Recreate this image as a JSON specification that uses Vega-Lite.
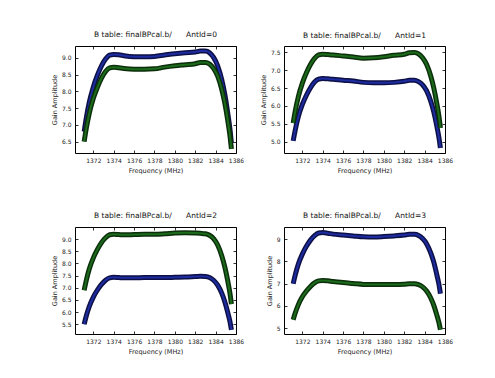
{
  "$schema": "https://vega.github.io/schema/vega-lite/v6.json",
  "background": "white",
  "padding": {"left": 50, "top": 30, "right": 5, "bottom": 5},
  "config": {
    "font": "DejaVu Sans",
    "view": {"stroke": "#000", "strokeWidth": 1},
    "axis": {
      "domain": false, "grid": false,
      "tickSize": -3, "tickColor": "#000", "tickWidth": 0.8,
      "labelPadding": 7, "labelFont": "DejaVu Sans", "labelFontSize": 6, "labelColor": "#222",
      "labelOverlap": false, "labelBound": false, "labelFlush": false,
      "titleFont": "DejaVu Sans", "titleFontSize": 6.5, "titleFontWeight": "normal", "titleColor": "#222",
      "titlePadding": 4
    },
    "title": {"font": "DejaVu Sans", "fontSize": 7.5, "fontWeight": "normal", "color": "#111", "offset": 3}
  },
  "datasets": {
    "gain": [
      {"a":0,"f":1371.1,"b":6.80,"g":6.50},{"a":0,"f":1371.3,"b":7.19,"g":6.88},{"a":0,"f":1371.6,"b":7.67,"g":7.34},{"a":0,"f":1372.0,"b":8.13,"g":7.79},
      {"a":0,"f":1372.4,"b":8.48,"g":8.12},{"a":0,"f":1372.8,"b":8.76,"g":8.39},{"a":0,"f":1373.2,"b":8.96,"g":8.59},{"a":0,"f":1373.6,"b":9.08,"g":8.70},
      {"a":0,"f":1374.0,"b":9.10,"g":8.72},{"a":0,"f":1374.5,"b":9.09,"g":8.70},{"a":0,"f":1375.0,"b":9.06,"g":8.68},{"a":0,"f":1376.0,"b":9.03,"g":8.66},
      {"a":0,"f":1377.0,"b":9.03,"g":8.66},{"a":0,"f":1378.0,"b":9.04,"g":8.67},{"a":0,"f":1379.0,"b":9.08,"g":8.72},{"a":0,"f":1380.0,"b":9.12,"g":8.76},
      {"a":0,"f":1381.0,"b":9.15,"g":8.79},{"a":0,"f":1382.0,"b":9.17,"g":8.82},{"a":0,"f":1382.5,"b":9.20,"g":8.86},{"a":0,"f":1383.0,"b":9.20,"g":8.86},
      {"a":0,"f":1383.4,"b":9.15,"g":8.81},{"a":0,"f":1383.8,"b":9.01,"g":8.68},{"a":0,"f":1384.2,"b":8.76,"g":8.45},{"a":0,"f":1384.6,"b":8.35,"g":8.06},
      {"a":0,"f":1384.9,"b":7.91,"g":7.65},{"a":0,"f":1385.2,"b":7.33,"g":7.11},{"a":0,"f":1385.4,"b":6.89,"g":6.69},{"a":0,"f":1385.55,"b":6.45,"g":6.28},

      {"a":1,"f":1371.1,"b":5.02,"g":5.52},{"a":1,"f":1371.3,"b":5.32,"g":5.85},{"a":1,"f":1371.6,"b":5.69,"g":6.25},{"a":1,"f":1372.0,"b":6.04,"g":6.64},
      {"a":1,"f":1372.4,"b":6.30,"g":6.93},{"a":1,"f":1372.8,"b":6.51,"g":7.16},{"a":1,"f":1373.2,"b":6.67,"g":7.33},{"a":1,"f":1373.6,"b":6.75,"g":7.43},
      {"a":1,"f":1374.0,"b":6.77,"g":7.45},{"a":1,"f":1374.5,"b":6.76,"g":7.44},{"a":1,"f":1375.0,"b":6.75,"g":7.43},{"a":1,"f":1376.0,"b":6.72,"g":7.40},
      {"a":1,"f":1377.0,"b":6.70,"g":7.37},{"a":1,"f":1378.0,"b":6.66,"g":7.34},{"a":1,"f":1379.0,"b":6.65,"g":7.35},{"a":1,"f":1380.0,"b":6.65,"g":7.38},
      {"a":1,"f":1381.0,"b":6.66,"g":7.42},{"a":1,"f":1382.0,"b":6.69,"g":7.45},{"a":1,"f":1382.5,"b":6.72,"g":7.49},{"a":1,"f":1383.0,"b":6.72,"g":7.50},
      {"a":1,"f":1383.4,"b":6.68,"g":7.46},{"a":1,"f":1383.8,"b":6.59,"g":7.35},{"a":1,"f":1384.2,"b":6.42,"g":7.16},{"a":1,"f":1384.6,"b":6.13,"g":6.84},
      {"a":1,"f":1384.9,"b":5.83,"g":6.50},{"a":1,"f":1385.2,"b":5.43,"g":6.06},{"a":1,"f":1385.4,"b":5.12,"g":5.72},{"a":1,"f":1385.55,"b":4.82,"g":5.38},

      {"a":2,"f":1371.1,"b":5.50,"g":6.90},{"a":2,"f":1371.3,"b":5.83,"g":7.29},{"a":2,"f":1371.6,"b":6.23,"g":7.77},{"a":2,"f":1372.0,"b":6.62,"g":8.23},
      {"a":2,"f":1372.4,"b":6.91,"g":8.58},{"a":2,"f":1372.8,"b":7.14,"g":8.86},{"a":2,"f":1373.2,"b":7.31,"g":9.06},{"a":2,"f":1373.6,"b":7.41,"g":9.18},
      {"a":2,"f":1374.0,"b":7.43,"g":9.20},{"a":2,"f":1374.5,"b":7.42,"g":9.19},{"a":2,"f":1375.0,"b":7.41,"g":9.18},{"a":2,"f":1376.0,"b":7.41,"g":9.19},
      {"a":2,"f":1377.0,"b":7.42,"g":9.20},{"a":2,"f":1378.0,"b":7.42,"g":9.20},{"a":2,"f":1379.0,"b":7.42,"g":9.22},{"a":2,"f":1380.0,"b":7.43,"g":9.25},
      {"a":2,"f":1381.0,"b":7.44,"g":9.26},{"a":2,"f":1382.0,"b":7.46,"g":9.25},{"a":2,"f":1382.5,"b":7.47,"g":9.24},{"a":2,"f":1383.0,"b":7.46,"g":9.22},
      {"a":2,"f":1383.4,"b":7.42,"g":9.16},{"a":2,"f":1383.8,"b":7.31,"g":9.02},{"a":2,"f":1384.2,"b":7.11,"g":8.76},{"a":2,"f":1384.6,"b":6.78,"g":8.32},
      {"a":2,"f":1384.9,"b":6.43,"g":7.86},{"a":2,"f":1385.2,"b":5.97,"g":7.26},{"a":2,"f":1385.4,"b":5.62,"g":6.79},{"a":2,"f":1385.55,"b":5.27,"g":6.33},

      {"a":3,"f":1371.1,"b":7.00,"g":5.38},{"a":3,"f":1371.3,"b":7.39,"g":5.68},{"a":3,"f":1371.6,"b":7.87,"g":6.05},{"a":3,"f":1372.0,"b":8.33,"g":6.41},
      {"a":3,"f":1372.4,"b":8.68,"g":6.67},{"a":3,"f":1372.8,"b":8.96,"g":6.88},{"a":3,"f":1373.2,"b":9.16,"g":7.04},{"a":3,"f":1373.6,"b":9.28,"g":7.13},
      {"a":3,"f":1374.0,"b":9.30,"g":7.15},{"a":3,"f":1374.5,"b":9.27,"g":7.13},{"a":3,"f":1375.0,"b":9.23,"g":7.10},{"a":3,"f":1376.0,"b":9.19,"g":7.05},
      {"a":3,"f":1377.0,"b":9.15,"g":7.01},{"a":3,"f":1378.0,"b":9.11,"g":6.97},{"a":3,"f":1379.0,"b":9.10,"g":6.96},{"a":3,"f":1380.0,"b":9.12,"g":6.97},
      {"a":3,"f":1381.0,"b":9.15,"g":6.97},{"a":3,"f":1382.0,"b":9.19,"g":6.98},{"a":3,"f":1382.5,"b":9.22,"g":7.00},{"a":3,"f":1383.0,"b":9.22,"g":7.00},
      {"a":3,"f":1383.4,"b":9.17,"g":6.96},{"a":3,"f":1383.8,"b":9.03,"g":6.86},{"a":3,"f":1384.2,"b":8.79,"g":6.67},{"a":3,"f":1384.6,"b":8.39,"g":6.36},
      {"a":3,"f":1384.9,"b":7.97,"g":6.03},{"a":3,"f":1385.2,"b":7.40,"g":5.59},{"a":3,"f":1385.4,"b":6.98,"g":5.26},{"a":3,"f":1385.55,"b":6.55,"g":4.93}
    ]
  },
  "columns": 2,
  "bounds": "flush",
  "spacing": {"column": 48, "row": 74},
  "concat": [
    {
      "width": 161, "height": 107,
      "title": "B table: finalBPcal.b/\u00a0\u00a0\u00a0\u00a0\u00a0\u00a0AntId=0",
      "data": {"name": "gain"},
      "transform": [{"filter": "datum.a == 0"}],
      "resolve": {"axis": {"x": "independent", "y": "independent"}},
      "layer": [
        {"mark": {"type": "line", "interpolate": "monotone", "strokeWidth": 5, "color": "#0d1045"},
         "encoding": {
           "x": {"field": "f", "type": "quantitative", "scale": {"domain": [1370.2, 1386], "nice": false, "zero": false},
                 "axis": {"orient": "bottom", "values": [1372,1374,1376,1378,1380,1382,1384,1386], "format": "d", "title": "Frequency (MHz)"}},
           "y": {"field": "b", "type": "quantitative", "scale": {"domain": [6.16, 9.35], "nice": false, "zero": false},
                 "axis": {"orient": "left", "values": [6.5,7.0,7.5,8.0,8.5,9.0], "format": ".1f", "title": "Gain Amplitude"}}}},
        {"mark": {"type": "line", "interpolate": "monotone", "strokeWidth": 2, "color": "#2333b8", "opacity": 0.8},
         "encoding": {
           "x": {"field": "f", "type": "quantitative", "axis": {"orient": "top", "values": [1372,1374,1376,1378,1380,1382,1384,1386], "labels": false, "title": null}},
           "y": {"field": "b", "type": "quantitative", "axis": {"orient": "right", "values": [6.5,7.0,7.5,8.0,8.5,9.0], "labels": false, "title": null}}}},
        {"mark": {"type": "line", "interpolate": "monotone", "strokeWidth": 5, "color": "#0c2e0c"},
         "encoding": {"x": {"field": "f", "type": "quantitative", "axis": null}, "y": {"field": "g", "type": "quantitative", "axis": null}}},
        {"mark": {"type": "line", "interpolate": "monotone", "strokeWidth": 2, "color": "#1f7a1f", "opacity": 0.8},
         "encoding": {"x": {"field": "f", "type": "quantitative", "axis": null}, "y": {"field": "g", "type": "quantitative", "axis": null}}}
      ]
    },
    {
      "width": 161, "height": 107,
      "title": "B table: finalBPcal.b/\u00a0\u00a0\u00a0\u00a0\u00a0\u00a0AntId=1",
      "data": {"name": "gain"},
      "transform": [{"filter": "datum.a == 1"}],
      "resolve": {"axis": {"x": "independent", "y": "independent"}},
      "layer": [
        {"mark": {"type": "line", "interpolate": "monotone", "strokeWidth": 5, "color": "#0d1045"},
         "encoding": {
           "x": {"field": "f", "type": "quantitative", "scale": {"domain": [1370.2, 1386], "nice": false, "zero": false},
                 "axis": {"orient": "bottom", "values": [1372,1374,1376,1378,1380,1382,1384,1386], "format": "d", "title": "Frequency (MHz)"}},
           "y": {"field": "b", "type": "quantitative", "scale": {"domain": [4.68, 7.68], "nice": false, "zero": false},
                 "axis": {"orient": "left", "values": [5.0,5.5,6.0,6.5,7.0,7.5], "format": ".1f", "title": "Gain Amplitude"}}}},
        {"mark": {"type": "line", "interpolate": "monotone", "strokeWidth": 2, "color": "#2333b8", "opacity": 0.8},
         "encoding": {
           "x": {"field": "f", "type": "quantitative", "axis": {"orient": "top", "values": [1372,1374,1376,1378,1380,1382,1384,1386], "labels": false, "title": null}},
           "y": {"field": "b", "type": "quantitative", "axis": {"orient": "right", "values": [5.0,5.5,6.0,6.5,7.0,7.5], "labels": false, "title": null}}}},
        {"mark": {"type": "line", "interpolate": "monotone", "strokeWidth": 5, "color": "#0c2e0c"},
         "encoding": {"x": {"field": "f", "type": "quantitative", "axis": null}, "y": {"field": "g", "type": "quantitative", "axis": null}}},
        {"mark": {"type": "line", "interpolate": "monotone", "strokeWidth": 2, "color": "#1f7a1f", "opacity": 0.8},
         "encoding": {"x": {"field": "f", "type": "quantitative", "axis": null}, "y": {"field": "g", "type": "quantitative", "axis": null}}}
      ]
    },
    {
      "width": 161, "height": 107,
      "title": "B table: finalBPcal.b/\u00a0\u00a0\u00a0\u00a0\u00a0\u00a0AntId=2",
      "data": {"name": "gain"},
      "transform": [{"filter": "datum.a == 2"}],
      "resolve": {"axis": {"x": "independent", "y": "independent"}},
      "layer": [
        {"mark": {"type": "line", "interpolate": "monotone", "strokeWidth": 5, "color": "#0d1045"},
         "encoding": {
           "x": {"field": "f", "type": "quantitative", "scale": {"domain": [1370.2, 1386], "nice": false, "zero": false},
                 "axis": {"orient": "bottom", "values": [1372,1374,1376,1378,1380,1382,1384,1386], "format": "d", "title": "Frequency (MHz)"}},
           "y": {"field": "b", "type": "quantitative", "scale": {"domain": [5.1, 9.5], "nice": false, "zero": false},
                 "axis": {"orient": "left", "values": [5.5,6.0,6.5,7.0,7.5,8.0,8.5,9.0], "format": ".1f", "title": "Gain Amplitude"}}}},
        {"mark": {"type": "line", "interpolate": "monotone", "strokeWidth": 2, "color": "#2333b8", "opacity": 0.8},
         "encoding": {
           "x": {"field": "f", "type": "quantitative", "axis": {"orient": "top", "values": [1372,1374,1376,1378,1380,1382,1384,1386], "labels": false, "title": null}},
           "y": {"field": "b", "type": "quantitative", "axis": {"orient": "right", "values": [5.5,6.0,6.5,7.0,7.5,8.0,8.5,9.0], "labels": false, "title": null}}}},
        {"mark": {"type": "line", "interpolate": "monotone", "strokeWidth": 5, "color": "#0c2e0c"},
         "encoding": {"x": {"field": "f", "type": "quantitative", "axis": null}, "y": {"field": "g", "type": "quantitative", "axis": null}}},
        {"mark": {"type": "line", "interpolate": "monotone", "strokeWidth": 2, "color": "#1f7a1f", "opacity": 0.8},
         "encoding": {"x": {"field": "f", "type": "quantitative", "axis": null}, "y": {"field": "g", "type": "quantitative", "axis": null}}}
      ]
    },
    {
      "width": 161, "height": 107,
      "title": "B table: finalBPcal.b/\u00a0\u00a0\u00a0\u00a0\u00a0\u00a0AntId=3",
      "data": {"name": "gain"},
      "transform": [{"filter": "datum.a == 3"}],
      "resolve": {"axis": {"x": "independent", "y": "independent"}},
      "layer": [
        {"mark": {"type": "line", "interpolate": "monotone", "strokeWidth": 5, "color": "#0d1045"},
         "encoding": {
           "x": {"field": "f", "type": "quantitative", "scale": {"domain": [1370.2, 1386], "nice": false, "zero": false},
                 "axis": {"orient": "bottom", "values": [1372,1374,1376,1378,1380,1382,1384,1386], "format": "d", "title": "Frequency (MHz)"}},
           "y": {"field": "b", "type": "quantitative", "scale": {"domain": [4.74, 9.55], "nice": false, "zero": false},
                 "axis": {"orient": "left", "values": [5,6,7,8,9], "format": "d", "title": "Gain Amplitude"}}}},
        {"mark": {"type": "line", "interpolate": "monotone", "strokeWidth": 2, "color": "#2333b8", "opacity": 0.8},
         "encoding": {
           "x": {"field": "f", "type": "quantitative", "axis": {"orient": "top", "values": [1372,1374,1376,1378,1380,1382,1384,1386], "labels": false, "title": null}},
           "y": {"field": "b", "type": "quantitative", "axis": {"orient": "right", "values": [5,6,7,8,9], "labels": false, "title": null}}}},
        {"mark": {"type": "line", "interpolate": "monotone", "strokeWidth": 5, "color": "#0c2e0c"},
         "encoding": {"x": {"field": "f", "type": "quantitative", "axis": null}, "y": {"field": "g", "type": "quantitative", "axis": null}}},
        {"mark": {"type": "line", "interpolate": "monotone", "strokeWidth": 2, "color": "#1f7a1f", "opacity": 0.8},
         "encoding": {"x": {"field": "f", "type": "quantitative", "axis": null}, "y": {"field": "g", "type": "quantitative", "axis": null}}}
      ]
    }
  ]
}
